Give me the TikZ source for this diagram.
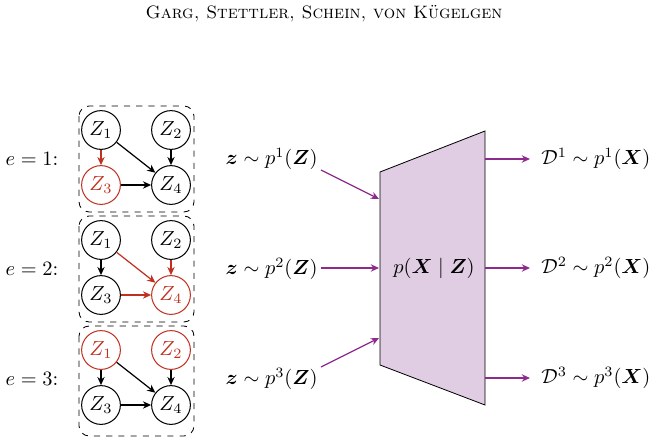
\documentclass[tikz,border=0pt]{standalone}
\usepackage{amsmath}
\usetikzlibrary{arrows.meta}
\definecolor{cred}{RGB}{192,48,32}
\definecolor{cpurple}{RGB}{142,42,142}
\definecolor{cfill}{RGB}{224,204,227}
\tikzset{
  var/.style={circle,draw,minimum size=19pt,inner sep=0pt,font=\normalsize,line width=0.5pt},
  redvar/.style={var,draw=cred,text=cred},
  edge/.style={-{Stealth[length=4pt,width=3.6pt]},semithick},
  rededge/.style={edge,draw=cred},
  flow/.style={-{Stealth[length=4pt,width=3.6pt]},semithick,draw=cpurple},
  envbox/.style={draw,dashed,rounded corners=5pt}
}
\begin{document}
\begin{tikzpicture}[x=0.49pt,y=-0.49pt]
\useasboundingbox (0,0) rectangle (653,444);
\node (hdr) at (324,14) {\fontsize{8.8pt}{10pt}\selectfont\textsc{Garg, Stettler, Schein, von Kügelgen}};
% boxes
\draw[envbox] (79,106) rectangle (194,212);
\draw[envbox] (79,216) rectangle (194,322);
\draw[envbox] (79,326) rectangle (194,436);
% graph 1
\node[var] (a1) at (101,130) {$Z_1$};
\node[var] (a2) at (171,130) {$Z_2$};
\node[redvar] (a3) at (101,185) {$Z_3$};
\node[var] (a4) at (171,185) {$Z_4$};
\draw[rededge] (a1) -- (a3);
\draw[edge] (a1) -- (a4);
\draw[edge] (a2) -- (a4);
\draw[edge] (a3) -- (a4);
% graph 2
\node[var] (b1) at (101,240) {$Z_1$};
\node[var] (b2) at (171,240) {$Z_2$};
\node[var] (b3) at (101,295) {$Z_3$};
\node[redvar] (b4) at (171,295) {$Z_4$};
\draw[edge] (b1) -- (b3);
\draw[rededge] (b1) -- (b4);
\draw[rededge] (b2) -- (b4);
\draw[rededge] (b3) -- (b4);
% graph 3
\node[redvar] (c1) at (101,350) {$Z_1$};
\node[redvar] (c2) at (171,350) {$Z_2$};
\node[var] (c3) at (101,405) {$Z_3$};
\node[var] (c4) at (171,405) {$Z_4$};
\draw[edge] (c1) -- (c3);
\draw[edge] (c1) -- (c4);
\draw[edge] (c2) -- (c4);
\draw[edge] (c3) -- (c4);
% env labels
\node (e1) at (32,159) {$e=1$:};
\node (e2) at (32,269) {$e=2$:};
\node (e3) at (32,379) {$e=3$:};
% input labels
\node[anchor=east,inner sep=1pt] (z1) at (320,159) {$\boldsymbol{z}\sim p^1(\boldsymbol{Z})$};
\node[anchor=east,inner sep=1pt] (z2) at (320,269) {$\boldsymbol{z}\sim p^2(\boldsymbol{Z})$};
\node[anchor=east,inner sep=1pt] (z3) at (320,379) {$\boldsymbol{z}\sim p^3(\boldsymbol{Z})$};
% trapezoid
\draw[fill=cfill] (380,172) -- (485,131) -- (485,405) -- (380,365) -- cycle;
\node (dec) at (434,268) {$p(\boldsymbol{X}\mid\boldsymbol{Z})$};
\coordinate (in1) at (379,199);
\coordinate (in2) at (379,268);
\coordinate (in3) at (379,338);
\coordinate (s1) at (321,170);
\coordinate (s2) at (321,268);
\coordinate (s3) at (321,367);
\draw[flow] (s1) -- (in1);
\draw[flow] (s2) -- (in2);
\draw[flow] (s3) -- (in3);
% outputs
\node[anchor=west,inner sep=1pt] (d1) at (539,159) {$\mathcal{D}^1\sim p^1(\boldsymbol{X})$};
\node[anchor=west,inner sep=1pt] (d2) at (539,268) {$\mathcal{D}^2\sim p^2(\boldsymbol{X})$};
\node[anchor=west,inner sep=1pt] (d3) at (539,378) {$\mathcal{D}^3\sim p^3(\boldsymbol{X})$};
\coordinate (o1) at (485,159);
\coordinate (o2) at (485,268);
\coordinate (o3) at (485,378);
\draw[flow] (o1) -- (530,159);
\draw[flow] (o2) -- (530,268);
\draw[flow] (o3) -- (530,378);
\end{tikzpicture}
\end{document}
